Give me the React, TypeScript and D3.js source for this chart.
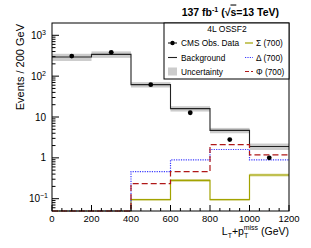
import React from 'react';
import * as d3 from 'd3';

// bin edges (GeV)
const edges = [0, 200, 400, 600, 800, 1000, 1200];
const background = [294, 342, 62, 16, 4.7, 1.9];
const bkgUnc = [0.2, 0.18, 0.15, 0.15, 0.15, 0.18];
const obsData = [310, 383, 62, 12.7, 2.8, 1.0];
const sigma700 = [0.05, 0.05, 0.095, 0.28, 0.095, 0.38];
const sigmaUnc = [0, 0, 0.05, 0.08, 0.05, 0.08];
const delta700 = [0.05, 0.05, 0.46, 0.89, 1.6, 0.89];
const phi700 = [0.05, 0.05, 0.233, 0.46, 2.1, 1.18];
const xTicks = [0, 200, 400, 600, 800, 1000, 1200];
const yDecades = [-1, 0, 1, 2, 3];

const W = 311, H = 248;
const L = 52, R = 289, T = 23, B = 211;
const FONT = '"Liberation Sans", Arial, Helvetica, sans-serif';

const x = d3.scaleLinear().domain([0, 1200]).range([L, R]);
const y = d3.scaleLog().domain([0.05, 2000]).range([B, T]).clamp(true);

const stepPath = (vals: number[]) => {
  let d = '';
  vals.forEach((v, i) => {
    const x0 = x(edges[i]), x1 = x(edges[i + 1]), yy = y(v);
    d += (i === 0 ? `M${x0},${yy}` : `L${x0},${yy}`) + `L${x1},${yy}`;
  });
  return d;
};

const decadeLabel = (p: number) => {
  if (p === 0) return <tspan>1</tspan>;
  if (p === 1) return <tspan>10</tspan>;
  return (
    <>
      <tspan>10</tspan>
      <tspan dy={-4} fontSize={7}>{p < 0 ? '\u22121' : p}</tspan>
    </>
  );
};

export default function App() {
  const yMinor: number[] = [];
  for (let p = -2; p <= 3; p++) {
    for (let k = 2; k <= 9; k++) {
      const v = k * Math.pow(10, p);
      if (v > 0.05 && v < 2000) yMinor.push(v);
    }
  }
  const xMinor = d3.range(0, 1201, 50).filter(v => v % 200 !== 0);

  return (
    <svg width={W} height={H} style={{ position: 'absolute', left: 0, top: 0, background: '#fff' }} fontFamily={FONT}>
      {/* uncertainty bands */}
      {background.map((v, i) => (
        <rect key={'bu' + i} x={x(edges[i])} width={x(edges[i + 1]) - x(edges[i])}
          y={y(v * (1 + bkgUnc[i]))} height={y(v * (1 - bkgUnc[i])) - y(v * (1 + bkgUnc[i]))}
          fill="#cccccc" />
      ))}
      {sigma700.map((v, i) => sigmaUnc[i] > 0 && (
        <rect key={'su' + i} x={x(edges[i])} width={x(edges[i + 1]) - x(edges[i])}
          y={y(v * (1 + sigmaUnc[i]))} height={y(v * (1 - sigmaUnc[i])) - y(v * (1 + sigmaUnc[i]))}
          fill="#dcdca0" />
      ))}

      <path d={stepPath(background)} fill="none" stroke="#222" strokeWidth={1.1} />
      <path d={stepPath(sigma700)} fill="none" stroke="#a3a300" strokeWidth={1.2} />
      <path d={stepPath(delta700)} fill="none" stroke="#3a3aff" strokeWidth={1.2} strokeDasharray="1.2,1.2" />
      <path d={stepPath(phi700)} fill="none" stroke="#b01818" strokeWidth={1.2} strokeDasharray="6,3" />

      {obsData.map((v, i) => (
        <circle key={'d' + i} cx={x((edges[i] + edges[i + 1]) / 2)} cy={y(v)} r={2.4} fill="#000" />
      ))}

      {/* frame */}
      <rect x={L} y={T} width={R - L} height={B - T} fill="none" stroke="#000" strokeWidth={1} />

      {/* x ticks */}
      {xTicks.map(t => (
        <g key={'xt' + t}>
          <line x1={x(t)} x2={x(t)} y1={B} y2={B - 6} stroke="#000" />
          <text x={x(t)} y={222} fontSize={9.5} textAnchor="middle">{t}</text>
        </g>
      ))}
      {xMinor.map(t => (
        <line key={'xm' + t} x1={x(t)} x2={x(t)} y1={B} y2={B - 3} stroke="#000" />
      ))}

      {/* y ticks */}
      {yDecades.map(p => (
        <g key={'yt' + p}>
          <line x1={L} x2={L + 7} y1={y(Math.pow(10, p))} y2={y(Math.pow(10, p))} stroke="#000" />
          <text x={p < 0 ? 48 : 46} y={y(Math.pow(10, p)) + 3.5} fontSize={10} textAnchor="end">
            {decadeLabel(p)}
          </text>
        </g>
      ))}
      {yMinor.map((v, i) => (
        <line key={'ym' + i} x1={L} x2={L + 3.5} y1={y(v)} y2={y(v)} stroke="#000" />
      ))}

      {/* axis titles */}
      <text transform={`translate(24,${T + 1}) rotate(-90)`} fontSize={11} textAnchor="end">Events / 200 GeV</text>
      <text x={R} y={235} fontSize={10.5} textAnchor="end">
        <tspan>L</tspan><tspan dy={3} fontSize={7}>T</tspan>
        <tspan dy={-3}>+p</tspan><tspan dy={3} fontSize={7}>T</tspan>
        <tspan dx={-4.5} dy={-8} fontSize={7}>miss</tspan>
        <tspan dy={5}> (GeV)</tspan>
      </text>

      {/* title */}
      <text x={279} y={15.5} fontSize={10.5} fontWeight="bold" textAnchor="end">
        <tspan>137 fb</tspan><tspan dy={-4} fontSize={7}>-1</tspan>
        <tspan dy={4}> (√</tspan>
        <tspan style={{ textDecoration: 'overline' }}>s</tspan>
        <tspan>=13 TeV)</tspan>
      </text>

      {/* legend */}
      <rect x={164} y={T} width={R - 164} height={56} fill="#fff" stroke="#000" strokeWidth={1} />
      <text x={227} y={32} fontSize={8.5} textAnchor="middle">4L OSSF2</text>
      <g fontSize={8.3}>
        <line x1={168} x2={177} y1={43} y2={43} stroke="#000" />
        <circle cx={172.5} cy={43} r={2.2} fill="#000" />
        <text x={181} y={46}>CMS Obs. Data</text>
        <line x1={168} x2={177} y1={57.5} y2={57.5} stroke="#222" strokeWidth={1.1} />
        <text x={181} y={60.5}>Background</text>
        <rect x={168} y={67.5} width={9} height={8} fill="#cccccc" />
        <text x={181} y={74.5}>Uncertainty</text>

        <line x1={245} x2={253} y1={43} y2={43} stroke="#a3a300" strokeWidth={1.2} />
        <text x={256} y={46}>Σ (700)</text>
        <line x1={245} x2={253} y1={57.5} y2={57.5} stroke="#3a3aff" strokeWidth={1.2} strokeDasharray="1.2,1.2" />
        <text x={256} y={60.5}>Δ (700)</text>
        <line x1={245} x2={253} y1={71.5} y2={71.5} stroke="#b01818" strokeWidth={1.2} strokeDasharray="4,2" />
        <text x={256} y={74.5}>Φ (700)</text>
      </g>
    </svg>
  );
}
